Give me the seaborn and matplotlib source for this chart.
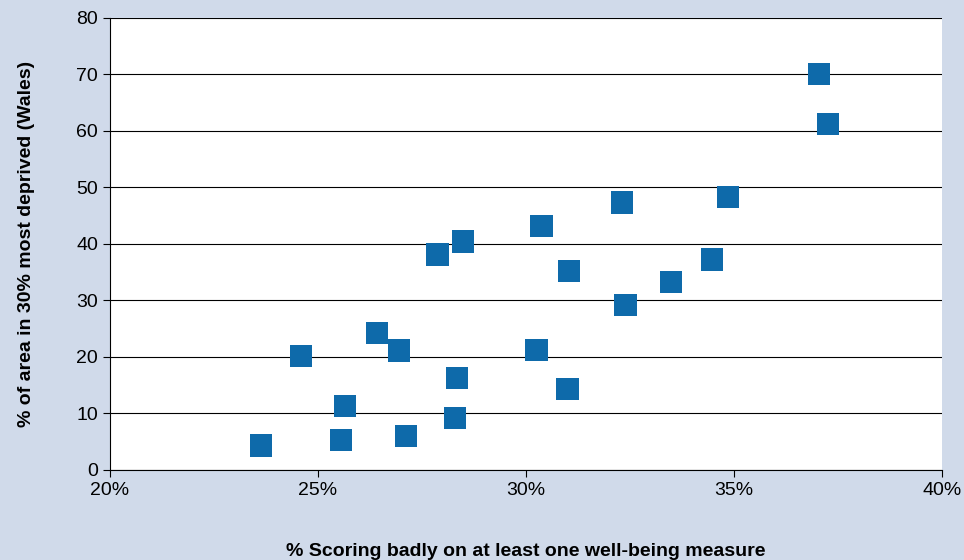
import matplotlib.pyplot as plt
import pandas as pd
import seaborn as sns
from matplotlib.ticker import FuncFormatter

# % scoring badly vs % of area in 30% most deprived
X_PCT = [23.63, 24.59, 25.65, 25.55, 26.42, 26.95, 27.12, 27.88, 28.49, 28.34, 28.29,
         30.38, 30.26, 31.03, 31.00, 32.31, 32.40, 33.49, 34.47, 34.86, 37.04, 37.26]
Y_PCT = [4.3, 20.2, 11.3, 5.3, 24.2, 21.1, 6.0, 38.1, 40.4, 16.3, 9.2,
         43.2, 21.2, 35.2, 14.3, 47.3, 29.2, 33.3, 37.2, 48.3, 70.1, 61.2]
X_TICKS = [20, 25, 30, 35, 40]
Y_TICKS = [0, 10, 20, 30, 40, 50, 60, 70, 80]

BG = "#d0daea"
MARKER = "#0e6aaa"


def main():
    sns.set_style("white")
    plt.rcParams["font.family"] = ["Liberation Sans", "DejaVu Sans"]
    plt.rcParams["text.color"] = "black"
    plt.rcParams["xtick.color"] = "black"
    plt.rcParams["ytick.color"] = "black"
    plt.rcParams["axes.labelcolor"] = "black"
    df = pd.DataFrame({"x": X_PCT, "y": Y_PCT})

    fig = plt.figure(figsize=(9.64, 5.6), dpi=100, facecolor=BG)
    ax = fig.add_axes([0.114, 0.161, 0.863, 0.807])
    sns.scatterplot(data=df, x="x", y="y", marker="s", s=260, color=MARKER,
                    edgecolor="none", ax=ax)

    ax.set_xlim(20, 40)
    ax.set_ylim(0, 80)
    ax.set_xticks(X_TICKS)
    ax.set_yticks(Y_TICKS)
    ax.xaxis.set_major_formatter(FuncFormatter(lambda v, _: f"{v:.0f}%"))
    ax.yaxis.grid(True, color="black", linewidth=0.8)
    ax.set_axisbelow(True)
    for s in ax.spines.values():
        s.set_visible(False)
    ax.spines["left"].set_visible(True)
    ax.spines["bottom"].set_visible(True)
    ax.spines["left"].set_color("black")
    ax.spines["bottom"].set_color("black")
    ax.tick_params(axis="both", direction="out", length=5, color="black",
                   labelsize=14, left=True, bottom=True)
    ax.set_xlabel("% Scoring badly on at least one well-being measure",
                  fontsize=14, fontweight="bold", labelpad=32)
    ax.set_ylabel("% of area in 30% most deprived (Wales)",
                  fontsize=14, fontweight="bold", labelpad=30)

    fig.savefig("out.png", dpi=100, facecolor=BG)


if __name__ == "__main__":
    main()
